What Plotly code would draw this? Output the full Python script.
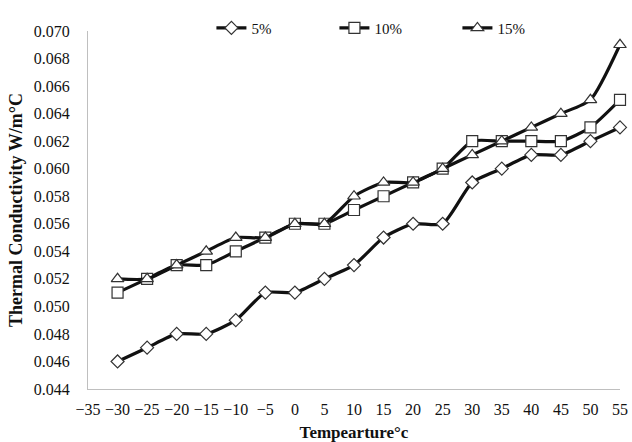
import plotly.graph_objects as go

temps = [-30, -25, -20, -15, -10, -5, 0, 5, 10, 15, 20, 25, 30, 35, 40, 45, 50, 55]
s5 = [0.046, 0.047, 0.048, 0.048, 0.049, 0.051, 0.051, 0.052, 0.053, 0.055, 0.056, 0.056,
      0.059, 0.060, 0.061, 0.061, 0.062, 0.063]
s10 = [0.051, 0.052, 0.053, 0.053, 0.054, 0.055, 0.056, 0.056, 0.057, 0.058, 0.059, 0.060,
       0.062, 0.062, 0.062, 0.062, 0.063, 0.065]
s15 = [0.052, 0.052, 0.053, 0.054, 0.055, 0.055, 0.056, 0.056, 0.058, 0.059, 0.059, 0.060,
       0.061, 0.062, 0.063, 0.064, 0.065, 0.069]
names = ["5%", "10%", "15%"]
symbols = ["diamond", "square", "triangle-up"]
sizes = [10, 11, 11]

font = "Liberation Serif, Times New Roman, serif"
fig = go.Figure()
for name, ys, sym, sz in zip(names, [s5, s10, s15], symbols, sizes):
    fig.add_trace(go.Scatter(
        x=temps, y=ys, name=name, mode="lines+markers",
        line=dict(color="#111111", width=3.2, shape="spline", smoothing=0.6),
        marker=dict(symbol=sym, size=sz, color="white",
                    line=dict(color="#333333", width=1.2)),
        cliponaxis=False,
    ))

fig.update_layout(
    width=632, height=442,
    margin=dict(l=88, r=12, t=21, b=53),
    plot_bgcolor="white", paper_bgcolor="white",
    font=dict(family=font, size=16, color="#111111"),
    showlegend=True,
    legend=dict(orientation="h", x=0.232, xanchor="left", y=1.008, yanchor="middle",
                font=dict(family=font, size=15), entrywidth=78, entrywidthmode="pixels",
                itemwidth=30, bgcolor="rgba(0,0,0,0)"),
    xaxis=dict(range=[-35, 55], dtick=5, tick0=-35, showgrid=False, zeroline=False,
               showline=True, linecolor="#BFBFBF", linewidth=1, ticks="",
               ticklabelstandoff=6, automargin=False,
               title=dict(text="<b>Tempearture°c</b>", font=dict(family=font, size=17), standoff=9),
               tickfont=dict(family=font, size=16)),
    yaxis=dict(range=[0.044, 0.070], dtick=0.002, tick0=0.044, tickformat=".3f",
               showgrid=False, zeroline=False, showline=True, linecolor="#BFBFBF",
               linewidth=1, ticks="", ticklabelstandoff=14, automargin=False,
               title=dict(text="<b>Thermal Conductivity W/m°C</b>", font=dict(family=font, size=18), standoff=6),
               tickfont=dict(family=font, size=16)),
)

fig.write_html("out.html")
